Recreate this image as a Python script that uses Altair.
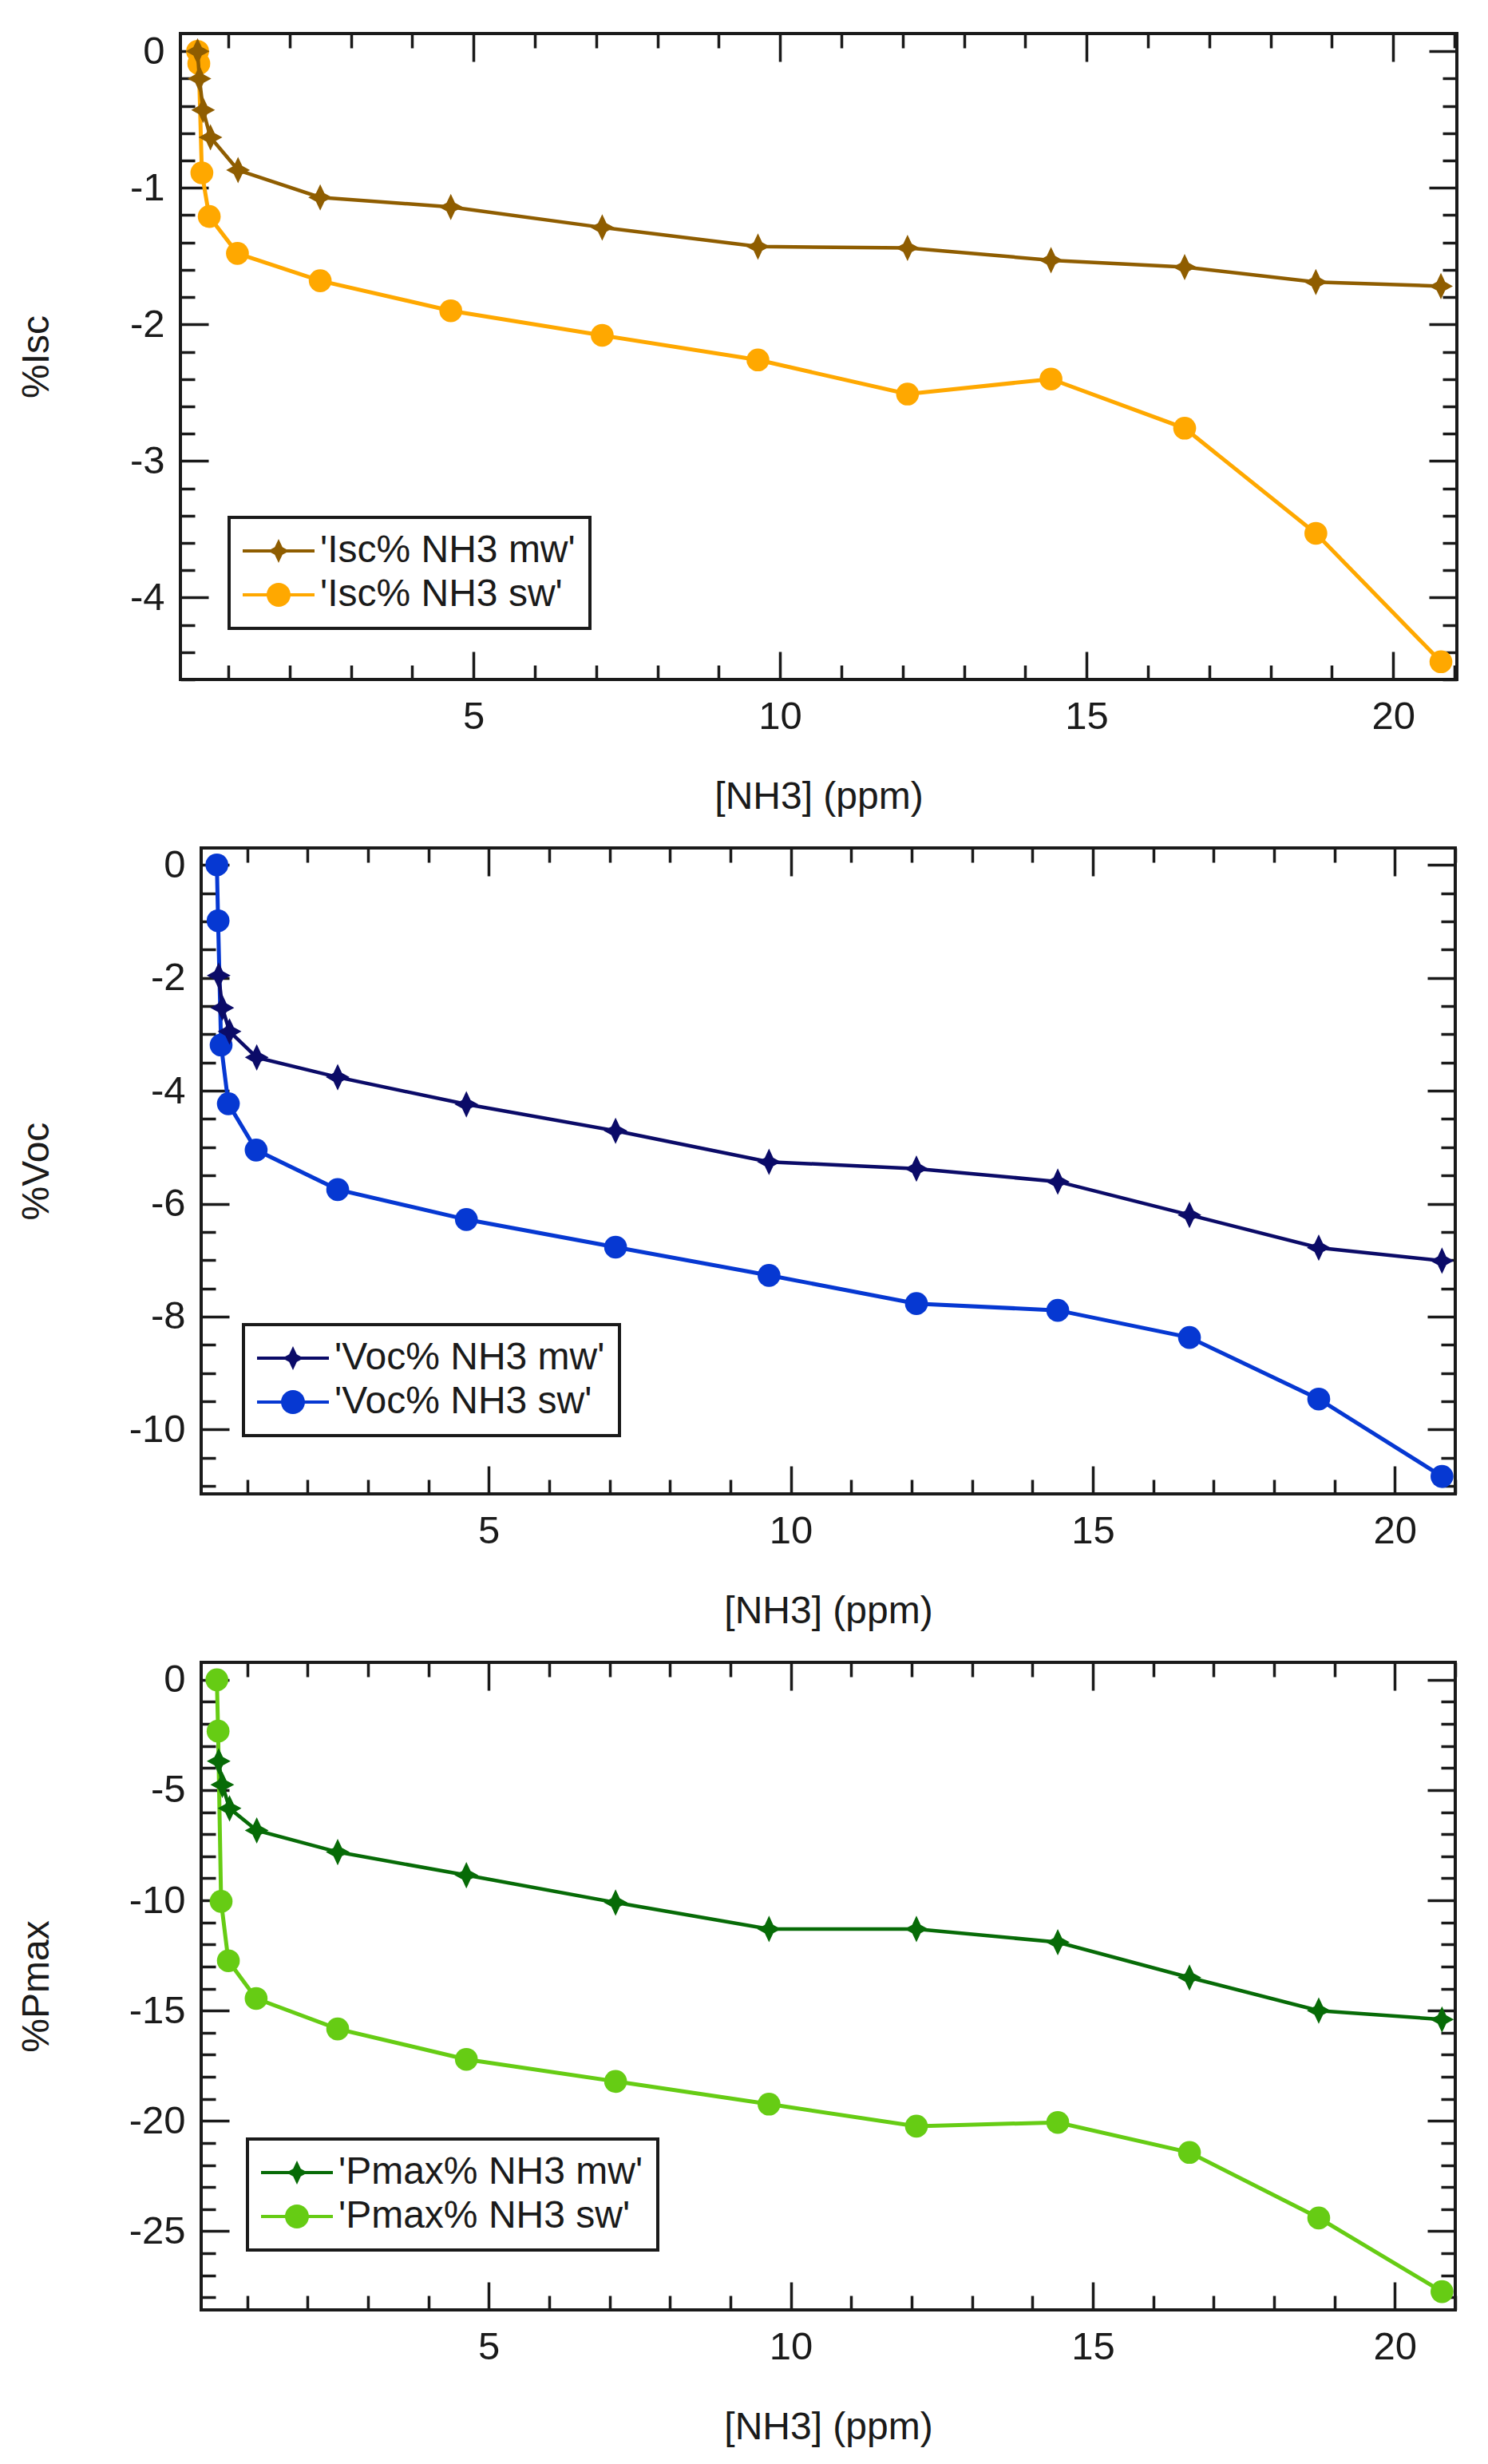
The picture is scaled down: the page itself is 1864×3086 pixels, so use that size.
import pandas as pd
import altair as alt

# [NH3] (ppm) for each series
conc_sw = [0.50, 0.52, 0.57, 0.69, 1.15, 2.50, 4.63, 7.10, 9.64, 12.08, 14.42, 16.60, 18.74, 20.78]
conc_mw = [0.50, 0.53, 0.59, 0.71, 1.16, 2.50, 4.63, 7.10, 9.64, 12.08, 14.42, 16.60, 18.74, 20.78]
conc_mw_late = conc_mw[1:]

# %Isc
isc_mw = [0, -0.20, -0.43, -0.63, -0.87, -1.07, -1.14, -1.29, -1.43, -1.44, -1.53, -1.58, -1.69, -1.72]
isc_sw = [0, -0.09, -0.89, -1.21, -1.48, -1.68, -1.90, -2.08, -2.26, -2.51, -2.40, -2.76, -3.53, -4.47]
# %Voc
voc_mw = [-1.96, -2.53, -2.95, -3.41, -3.76, -4.24, -4.71, -5.26, -5.38, -5.61, -6.20, -6.78, -7.01]
voc_sw = [0, -0.99, -3.19, -4.23, -5.05, -5.75, -6.28, -6.77, -7.27, -7.77, -7.89, -8.37, -9.46, -10.83]
# %Pmax
pmax_mw = [-3.69, -4.76, -5.83, -6.83, -7.81, -8.86, -10.1, -11.3, -11.3, -11.9, -13.5, -15.0, -15.4]
pmax_sw = [0, -2.33, -10.05, -12.74, -14.45, -15.83, -17.21, -18.21, -19.24, -20.24, -20.07, -21.43, -24.40, -27.74]

x_ticks = list(range(1, 22))

FONT = "Liberation Sans"
INK = "#1a1a1a"
TICK_MAJOR = 35
TICK_MINOR = 18

STAR = "M0,-1 L0.32,-0.32 L0.9,0 L0.32,0.32 L0,1 L-0.32,0.32 L-0.9,0 L-0.32,-0.32 Z"
STAR_KEY = "M-3,-0.14 L3,-0.14 L3,0.14 L-3,0.14 Z " + STAR
CIRCLE_KEY = "M-3,-0.14 L3,-0.14 L3,0.14 L-3,0.14 Z M-1,0 A1,1 0 1,1 1,0 A1,1 0 1,1 -1,0 Z"


def ticks_axis(orient, values, major, **kw):
    minor = f"abs(datum.value / {major} - round(datum.value / {major})) > 0.01"
    return alt.Axis(
        orient=orient, values=values, offset=-TICK_MAJOR, tickSize=TICK_MAJOR,
        tickDash={"condition": {"test": minor, "value": [TICK_MINOR, TICK_MAJOR - TICK_MINOR]},
                  "value": [TICK_MAJOR, 0]},
        tickDashOffset=TICK_MINOR,
        labelExpr=f"{minor} ? '' : toString(datum.value)",
        **kw)


def panel(xs_sw, ys_sw, xs_mw, ys_mw, names, colors, xdom, ydom, ystep, ymajor,
          ytitle, width, height, title_x, legend_xy):
    df = pd.concat([
        pd.DataFrame({"conc": xs_sw, "value": ys_sw, "series": names[1]}),
        pd.DataFrame({"conc": xs_mw, "value": ys_mw, "series": names[0]}),
    ])
    n = int(round(-ydom[0] / ystep)) + 1
    y_ticks = [round(-i * ystep, 2) for i in range(n)]
    xs = alt.Scale(domain=xdom, nice=False, zero=False)
    ys = alt.Scale(domain=ydom, nice=False, zero=False)

    x_bottom = ticks_axis("bottom", x_ticks, 5, title="[NH3] (ppm)", labelPadding=22,
                          titleX=width / 2, titleY=147 + TICK_MAJOR, titleBaseline="middle")
    y_left = ticks_axis("left", y_ticks, ymajor, title=ytitle, labelPadding=20,
                        titleX=title_x, titleY=height / 2, titleAngle=-90,
                        titleBaseline="middle", titleAlign="center")
    x_top = ticks_axis("top", x_ticks, 5, title=None, labels=False)
    y_right = ticks_axis("right", y_ticks, ymajor, title=None, labels=False)

    base = alt.Chart(df)
    xn = alt.X("conc:Q", scale=xs, axis=None)
    yn = alt.Y("value:Q", scale=ys, axis=None)

    sw = base.transform_filter(alt.datum.series == names[1])
    mw = base.transform_filter(alt.datum.series == names[0])
    sw_line = sw.mark_line(color=colors[1], strokeWidth=5).encode(
        x=alt.X("conc:Q", scale=xs, axis=x_bottom), y=alt.Y("value:Q", scale=ys, axis=y_left))
    sw_pts = sw.mark_point(shape="circle", filled=True, size=820, opacity=1,
                           color=colors[1]).encode(x=xn, y=yn)
    mw_line = mw.mark_line(color=colors[0], strokeWidth=4.5).encode(x=xn, y=yn)
    mw_pts = mw.mark_point(shape=STAR, filled=True, size=1100, opacity=1,
                           color=colors[0]).encode(x=xn, y=yn)

    leg = alt.Legend(orient="none", legendX=legend_xy[0], legendY=legend_xy[1], title=None,
                     padding=18, symbolOffset=20, labelOffset=28, labelLimit=900,
                     rowPadding=7, symbolSize=900, symbolOpacity=1, symbolStrokeWidth=0,
                     strokeColor=INK, fillColor="white")
    key = base.transform_filter("false").mark_point(filled=True, opacity=1).encode(
        x=alt.X("conc:Q", scale=xs, axis=x_top),
        y=alt.Y("value:Q", scale=ys, axis=y_right),
        color=alt.Color("series:N", scale=alt.Scale(domain=names, range=colors), legend=leg),
        shape=alt.Shape("series:N", scale=alt.Scale(domain=names, range=[STAR_KEY, CIRCLE_KEY]),
                        legend=leg),
    )
    layered = alt.layer(sw_line, sw_pts, mw_line, mw_pts, key).resolve_axis(
        x="independent", y="independent").properties(width=width, height=height)

    # a blank strip on the left lets each panel keep its own left offset
    spacer = alt.Chart(pd.DataFrame({"v": [0]})).mark_point(opacity=0).encode(
        x=alt.value(0), y=alt.value(0)
    ).properties(width=2, height=1, view=alt.ViewBackground(stroke="transparent"))
    return alt.hconcat(spacer, layered, spacing=0).resolve_scale(
        color="independent", shape="independent")


p1 = panel(conc_sw, isc_sw, conc_mw, isc_mw,
           ["'Isc% NH3 mw'", "'Isc% NH3 sw'"], ["#8f5d00", "#ffa800"],
           [0.22, 21.04], [-4.6, 0.13], 0.2, 1, "%Isc", 1599, 809, 48 - 228 - TICK_MAJOR, (61, 606))
p2 = panel(conc_sw, voc_sw, conc_mw_late, voc_mw,
           ["'Voc% NH3 mw'", "'Voc% NH3 sw'"], ["#0b0b68", "#0638d2"],
           [0.24, 21.0], [-11.14, 0.3], 0.5, 2, "%Voc", 1571, 809, 48 - 254 - TICK_MAJOR, (53, 597))
p3 = panel(conc_sw, pmax_sw, conc_mw_late, pmax_mw,
           ["'Pmax% NH3 mw'", "'Pmax% NH3 sw'"], ["#076b07", "#66cc14"],
           [0.24, 21.0], [-28.57, 0.79], 1, 5, "%Pmax", 1571, 811, 48 - 254 - TICK_MAJOR, (58, 597))

chart = alt.vconcat(p1, p2, p3, spacing=33).resolve_scale(
    color="independent", shape="independent"
).properties(
    padding={"left": 2, "top": 29, "right": 10, "bottom": 5}
).configure(font=FONT).configure_view(
    stroke=INK, strokeWidth=4
).configure_axis(
    domain=False, grid=False, tickColor=INK, tickWidth=3.5,
    labelFont=FONT, labelFontSize=49, labelColor=INK, labelFlush=False, labelOverlap=False,
    titleFont=FONT, titleFontSize=48, titleFontWeight="normal", titleColor=INK,
).configure_legend(
    strokeWidth=4, labelFont=FONT, labelFontSize=48, labelColor=INK
)

chart.save("out.html", embed_options={"renderer": "svg", "actions": False})
